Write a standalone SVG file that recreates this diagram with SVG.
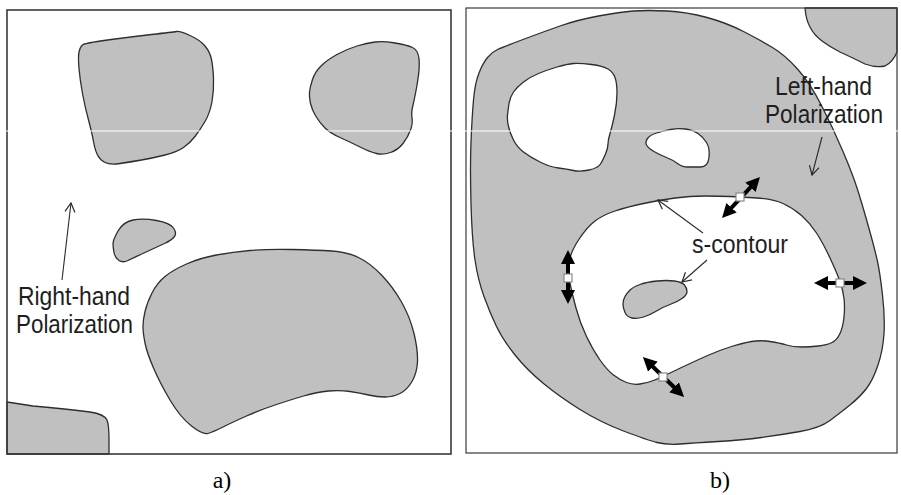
<svg xmlns="http://www.w3.org/2000/svg" width="901" height="495" viewBox="0 0 901 495">
<defs>
<style>
.blob{fill:#c0c0c0;stroke:#2e2e2e;stroke-width:1.3;stroke-linejoin:round}
.hole{fill:#ffffff;stroke:#2e2e2e;stroke-width:1.3;stroke-linejoin:round}
.frame{fill:none;stroke:#3a3a3a}
.lbl{font-family:"Liberation Sans",Arial,sans-serif;font-size:25px;fill:#1e1e1e}
.cap{font-family:"Liberation Serif","Times New Roman",serif;font-size:24px;fill:#000}
.thin{fill:none;stroke:#2a2a2a;stroke-width:1.1}
.bold{fill:none;stroke:#000;stroke-width:4}
.sq{fill:#fff;stroke:#8a8a8a;stroke-width:1.2}
</style>
<marker id="open" markerUnits="userSpaceOnUse" markerWidth="14" markerHeight="14" viewBox="-12 -7 14 14" refX="0" refY="0" orient="auto">
<path d="M-9,-5 L0,0 L-9,5" fill="none" stroke="#2a2a2a" stroke-width="1.2"/>
</marker>
<marker id="bh" markerUnits="userSpaceOnUse" markerWidth="15" markerHeight="15" viewBox="0 0 15 15" refX="3" refY="7.5" orient="auto-start-reverse">
<path d="M0,0.5 L14,7.5 L0,14.5 Z" fill="#000"/>
</marker>
</defs>
<rect width="901" height="495" fill="#fff"/>

<g id="panel-a">
<path id="a-blob1" class="blob" d="M79,68.5 Q78,57 79,52 Q80,47 82.5,45 Q85,43 107.5,40 Q130,37 151.5,34.5 Q173,32 176.5,31.5 Q180,31 190,35.5 Q200,40 205,46 Q210,52 211.5,59.5 Q213,67 213.5,78.5 Q214,90 212,101.5 Q210,113 205,121.5 Q200,130 195,136.5 Q190,143 183.5,147.5 Q177,152 165,155 Q153,158 141.5,160 Q130,162 120,163.5 Q110,165 105,162.5 Q100,160 97.5,155 Q95,150 93.5,141.5 Q92,133 88.5,120 Q85,107 82.5,93.5 Q80,80 79,68.5 Z"/>
<path id="a-blob2" class="blob" d="M310.5,103.5 Q309,97 309.5,92 Q310,87 312.5,79.5 Q315,72 321,66 Q327,60 337,54.5 Q347,49 357,46 Q367,43 375,42 Q383,41 395,43 Q407,45 412.5,47.5 Q418,50 419,58.5 Q420,67 417.5,82 Q415,97 413,105 Q411,113 412,118 Q413,123 410.5,130 Q408,137 403,143.5 Q398,150 390.5,152.5 Q383,155 376.5,153.5 Q370,152 360,147 Q350,142 340,137.5 Q330,133 325,128 Q320,123 316,116.5 Q312,110 310.5,103.5 Z"/>
<path id="a-blob3" class="blob" d="M114,252.5 Q113,247 113,243.5 Q113,240 118,231 Q123,222 133,220 Q143,218 156.5,220.5 Q170,223 173.5,228 Q177,233 174.5,236.5 Q172,240 164.5,243.5 Q157,247 145,252.5 Q133,258 128,260.5 Q123,263 119,260.5 Q115,258 114,252.5 Z"/>
<path id="a-blob4" class="blob" d="M145,343 Q143,333 143,326.5 Q143,320 145,311.5 Q147,303 152,293 Q157,283 165,276.5 Q173,270 186.5,264 Q200,258 216.5,255 Q233,252 250,250.5 Q267,249 292,249.5 Q317,250 332,251 Q347,252 358.5,257.5 Q370,263 381.5,275 Q393,287 401.5,302 Q410,317 414,333.5 Q418,350 417.5,361.5 Q417,373 412,381.5 Q407,390 400,393.5 Q393,397 385,397 Q377,397 368.5,395 Q360,393 350,391.5 Q340,390 328.5,391 Q317,392 303.5,396 Q290,400 275,405 Q260,410 246.5,416 Q233,422 223,427 Q213,432 208,433.5 Q203,435 191.5,426 Q180,417 170,400 Q160,383 153.5,368 Q147,353 145,343 Z"/>
<path id="a-blob5" class="blob" d="M7,454 L7,402 Q20,404 33,406 Q67,409 90,412 Q104,414 107,420 Q109,425 109,440 L109,454 Z"/>
<rect id="a-frame" class="frame" x="7" y="10" width="444" height="444" stroke-width="1.6"/>
</g>

<g id="panel-b">
<path id="b-outer" class="blob" d="M471,142 Q472,117 473.5,100 Q475,83 479,73 Q483,63 487.5,57.5 Q492,52 497.5,49.5 Q503,47 523,39.5 Q543,32 560,26 Q577,20 598.5,16 Q620,12 633.5,11 Q647,10 667,11 Q687,12 707,17.5 Q727,23 743.5,31.5 Q760,40 772.5,47.5 Q785,55 797.5,69 Q810,83 821.5,105.5 Q833,128 843,151.5 Q853,175 858,191 Q863,207 869,228.5 Q875,250 877.5,261.5 Q880,273 882.5,295 Q885,317 884,333.5 Q883,350 878,365 Q873,380 866.5,388.5 Q860,397 850,405 Q840,413 830,420.5 Q820,428 800,431.5 Q780,435 761.5,437.5 Q743,440 718,441.5 Q693,443 680,444 Q667,445 657,442.5 Q647,440 623.5,431 Q600,422 580,409.5 Q560,397 543.5,383.5 Q527,370 515,355 Q503,340 496.5,326.5 Q490,313 484,296.5 Q478,280 475,260 Q472,240 471,203.5 Q470,167 471,142 Z"/>
<path id="b-hole1" class="hole" d="M508.5,126.5 Q507,120 507.5,115 Q508,110 509,103.5 Q510,97 513.5,92 Q517,87 523.5,82 Q530,77 538.5,73.5 Q547,70 557,67 Q567,64 573.5,63.5 Q580,63 591.5,64.5 Q603,66 608,69 Q613,72 615,77.5 Q617,83 617,93 Q617,103 614.5,115 Q612,127 610,133.5 Q608,140 608,144 Q608,148 605.5,154 Q603,160 600.5,164 Q598,168 589,170 Q580,172 573.5,170.5 Q567,169 558.5,168 Q550,167 540,162 Q530,157 523.5,152 Q517,147 513.5,140 Q510,133 508.5,126.5 Z"/>
<path id="b-hole2" class="hole" d="M646.5,145 Q645,142 647.5,138.5 Q650,135 656.5,133 Q663,131 670.5,129.5 Q678,128 685.5,129 Q693,130 698,133.5 Q703,137 706.5,142.5 Q710,148 709,157.5 Q708,167 700.5,167 Q693,167 687.5,167 Q682,167 677.5,163.5 Q673,160 666.5,157.5 Q660,155 654,151.5 Q648,148 646.5,145 Z"/>
<path id="b-scontour" class="hole" d="M569,263 Q570,253 578.5,240 Q587,227 595,221 Q603,215 615,211 Q627,207 643.5,203.5 Q660,200 675,198 Q690,196 705,196 Q720,196 730,196.5 Q740,197 756.5,198 Q773,199 783,203.5 Q793,208 801.5,215.5 Q810,223 816.5,233 Q823,243 830,258 Q837,273 840,281.5 Q843,290 844,298.5 Q845,307 844,317 Q843,327 840,333.5 Q837,340 832,342.5 Q827,345 818.5,346 Q810,347 801.5,347 Q793,347 786.5,345 Q780,343 770,341.5 Q760,340 751.5,341.5 Q743,343 731.5,346.5 Q720,350 706.5,356 Q693,362 681.5,367.5 Q670,373 665,375.5 Q660,378 653.5,380.5 Q647,383 640,384 Q633,385 626.5,382.5 Q620,380 613.5,375 Q607,370 600,360 Q593,350 586.5,336.5 Q580,323 576,308 Q572,293 570,283 Q568,273 569,263 Z"/>
<path id="b-island" class="blob" d="M623,304 Q623,300 625,296.5 Q627,293 630,290 Q633,287 640,284.5 Q647,282 657,281 Q667,280 674.5,281 Q682,282 684.5,285 Q687,288 687,291.5 Q687,295 682,298.5 Q677,302 670,304.5 Q663,307 656.5,311 Q650,315 643.5,317 Q637,319 632,318 Q627,317 625,312.5 Q623,308 623,304 Z"/>
<path id="b-corner" class="blob" d="M805,8 Q806,20 810,27 Q814,35 822,41 Q830,47 840,52 Q855,59 865,64 Q876,68 885,66 Q893,62 897,52 L897,8 Z"/>
<rect id="b-frame" class="frame" x="466" y="8" width="431" height="445" stroke-width="1.2"/>
</g>

<g id="connectors">
<line class="thin" x1="62" y1="280" x2="71" y2="203" marker-end="url(#open)"/>
<line class="thin" x1="822" y1="137" x2="812" y2="175" marker-end="url(#open)"/>
<line class="thin" x1="703" y1="233" x2="658" y2="200" marker-end="url(#open)"/>
<line class="thin" x1="707" y1="260" x2="682" y2="282" marker-end="url(#open)"/>
<line class="bold" x1="729.5" y1="209.9" x2="752.5" y2="185.1" marker-start="url(#bh)" marker-end="url(#bh)"/>
<line class="bold" x1="568" y1="261" x2="568" y2="293" marker-start="url(#bh)" marker-end="url(#bh)"/>
<line class="bold" x1="825" y1="283" x2="856" y2="283" marker-start="url(#bh)" marker-end="url(#bh)"/>
<line class="bold" x1="650.8" y1="364.7" x2="676.2" y2="389.3" marker-start="url(#bh)" marker-end="url(#bh)"/>
</g>

<g id="handles">
<rect class="sq" x="736" y="193" width="8" height="8"/>
<rect class="sq" x="564" y="274" width="8" height="8"/>
<rect class="sq" x="836" y="279" width="8" height="8"/>
<rect class="sq" x="659" y="373" width="8" height="8"/>
</g>

<rect x="0" y="130.5" width="901" height="1" fill="#fff"/>

<g id="labels">
<text class="lbl" x="18" y="305" textLength="112" lengthAdjust="spacingAndGlyphs">Right-hand</text>
<text class="lbl" x="16" y="333" textLength="117" lengthAdjust="spacingAndGlyphs">Polarization</text>
<text class="lbl" x="775" y="95" textLength="97" lengthAdjust="spacingAndGlyphs">Left-hand</text>
<text class="lbl" x="765" y="123" textLength="118" lengthAdjust="spacingAndGlyphs">Polarization</text>
<text class="lbl" x="692" y="253" textLength="96" lengthAdjust="spacingAndGlyphs">s-contour</text>
<text class="cap" x="222" y="488" text-anchor="middle">a)</text>
<text class="cap" x="720" y="488" text-anchor="middle">b)</text>
</g>
</svg>
